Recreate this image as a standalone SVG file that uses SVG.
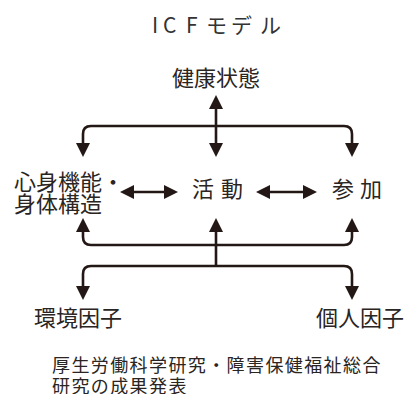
<svg xmlns="http://www.w3.org/2000/svg" width="406" height="394" viewBox="0 0 406 394">
<style>
text{font-family:"Noto Sans CJK JP","Noto Sans",sans-serif;fill:#2a2522}
.t{font-size:21px;fill:#333}
.n{font-size:22px}
.f{font-size:18px;letter-spacing:1.4px}
.c{fill:none;stroke:#231815;stroke-width:2.6}
</style>
<defs>
<marker id="ah" markerUnits="userSpaceOnUse" markerWidth="14" markerHeight="14" refX="4" refY="7" orient="auto-start-reverse" viewBox="0 0 14 14">
<path d="M0,0 L14,7 L0,14 z" fill="#231815"/>
</marker>
</defs>
<g id="title"><text class="t" x="152 163 186 206 231 260" y="33">ICFモデル</text></g>
<g id="health"><text class="n" x="172" y="86">健康状態</text></g>
<g id="body"><text class="n" x="14" y="190">心身機能・</text><text class="n" x="14" y="212">身体構造</text></g>
<g id="activity"><text class="n" x="192 221" y="197">活動</text></g>
<g id="participation"><text class="n" x="332 360" y="197">参加</text></g>
<g id="environment"><text class="n" x="34" y="326">環境因子</text></g>
<g id="personal"><text class="n" x="316" y="326">個人因子</text></g>
<g id="footer"><text class="f" x="52" y="372">厚生労働科学研究・障害保健福祉総合</text><text class="f" x="52" y="393">研究の成果発表</text></g>
<g id="connectors">
<line class="c" x1="216" y1="105" x2="216" y2="147" marker-start="url(#ah)" marker-end="url(#ah)"/>
<path class="c" d="M83,147 V134 Q83,126 91,126 H344 Q352,126 352,134 V147" marker-start="url(#ah)" marker-end="url(#ah)"/>
<line class="c" x1="130" y1="192" x2="168" y2="192" marker-start="url(#ah)" marker-end="url(#ah)"/>
<line class="c" x1="266" y1="192" x2="307" y2="192" marker-start="url(#ah)" marker-end="url(#ah)"/>
<path class="c" d="M83,228 V237 Q83,245 91,245 H344 Q352,245 352,237 V228" marker-start="url(#ah)" marker-end="url(#ah)"/>
<line class="c" x1="216" y1="266" x2="216" y2="228" marker-end="url(#ah)"/>
<path class="c" d="M83,290 V274 Q83,266 91,266 H344 Q352,266 352,274 V290" marker-start="url(#ah)" marker-end="url(#ah)"/>
</g>
</svg>
